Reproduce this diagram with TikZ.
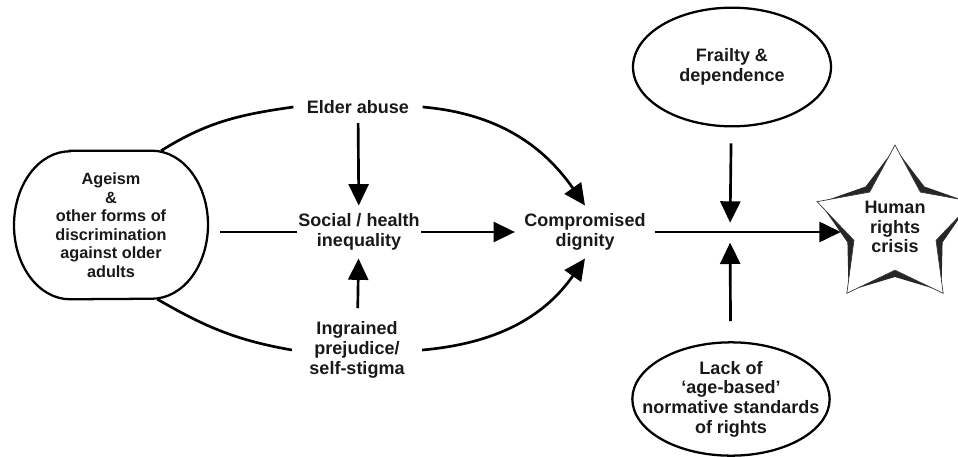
\documentclass[tikz,border=0pt]{standalone}
\usepackage{fontspec}
\setmainfont{Liberation Sans}
\usetikzlibrary{shapes.geometric, arrows.meta}

\begin{document}
\begin{tikzpicture}[
    x=0.75pt, y=-0.75pt,
    every node/.style={font=\bfseries\fontsize{13.5}{14.8}\selectfont, align=center, text=black!90},
    oval/.style={ellipse, draw, line width=1.7pt, inner sep=0pt},
    blob/.style={rectangle, minimum width=145.5pt, minimum height=111pt, inner sep=0pt},
    word/.style={inner xsep=10pt, inner ysep=7pt},
    link/.style={line width=2pt},
    arrow/.style={link, -{Triangle[length=16pt,width=15pt]}}
    ]
    \useasboundingbox (0,0) rectangle (958,457);

    % Nodes
    \node[blob, font=\bfseries\fontsize{12.2}{13.9}\selectfont] (ageism) at (111,225)
        {Ageism\\ \&\\ other forms of\\ discrimination\\ against older\\ adults};
    \draw[line width=1.7pt] ([shift={(-41,0)}]ageism.north) -- ([shift={(41,0)}]ageism.north)
        arc[start angle=90, end angle=-90, x radius=42pt, y radius=55.5pt]
        -- ([shift={(-41,0)}]ageism.south)
        arc[start angle=270, end angle=90, x radius=42pt, y radius=55.5pt] -- cycle;

    \node[word] (elder) at (358,107) {Elder abuse};
    \node[word, inner xsep=1pt, inner ysep=6pt] (social) at (359,232) {Social / health\\ inequality};
    \node[word, inner xsep=7pt, inner ysep=6pt] (comp) at (585,232) {Compromised\\ dignity};
    \node[word, inner xsep=13pt, inner ysep=10pt] (ingr) at (357,350) {Ingrained\\ prejudice/\\ self-stigma};

    \node[oval, minimum width=148.5pt, minimum height=89pt] (frail) at (732,67) {Frailty \&\\ dependence};
    \node[oval, inner xsep=-16pt, minimum width=148pt, minimum height=85pt] (lack) at (731,399)
        {Lack of\\ `age-based'\\ normative standards\\ of rights};

    \node[star, star points=5, star point ratio=1.58, minimum size=118.5pt, inner sep=0pt,
          fill=black!85] (hrcshade) at (895,227) {};
    \node[star, star points=5, star point ratio=1.9, minimum size=118.5pt, inner sep=0pt,
          draw=black!80, line width=0.5pt, fill=white] (hrc) at (895,227) {Human\\ rights\\ crisis};

    \coordinate (cross) at (730,232);

    % Connections
    \draw[link] (ageism.56) to[out=32,in=188] (elder.west);
    \draw[link] (ageism.-58) to[out=-30,in=170] (ingr.west);
    \draw[arrow] (elder.east) to[out=-5,in=125] (comp.north);
    \draw[arrow] (ingr.east) to[out=5,in=-125] (comp.south);

    \draw[arrow] (elder) -- (social);
    \draw[arrow] (ingr) -- (social);
    \draw[link, shorten <=9pt] (ageism.east |- social.west) -- (social.west);
    \draw[arrow] (social) -- (comp);

    \draw[arrow] (comp.east) -- (comp.east -| hrc.west);
    \draw[arrow, shorten <=12pt, shorten >=7pt] (frail) -- (cross);
    \draw[arrow, shorten <=15pt, shorten >=8pt] (lack) -- (cross);

\end{tikzpicture}
\end{document}
